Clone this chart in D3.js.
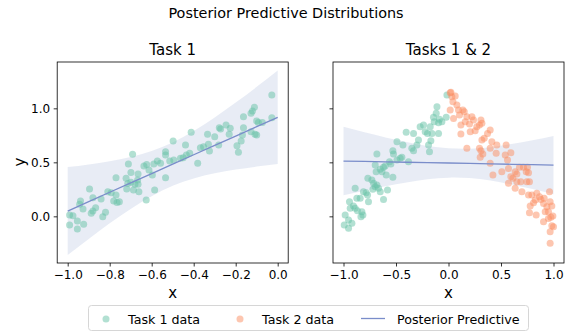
<!DOCTYPE html>
<html>
<head>
<meta charset="utf-8">
<script src="https://cdn.jsdelivr.net/npm/d3@7"></script>
<style>
  html, body { margin: 0; padding: 0; background: #fff; }
  svg { display: block; }
  text { font-family: "DejaVu Sans", sans-serif; fill: #000; }
</style>
</head>
<body>
<svg id="chart" width="571" height="331"></svg>
<script>
// ---- Task 1 observations (left panel) ----
const task1LeftX = [-0.991,-0.975,-0.954,-0.991,-0.924,-0.954,-0.939,-0.943,-0.927,-0.896,-0.880,-0.841,-0.867,-0.880,-0.888,-0.820,-0.833,-0.809,-0.793,-0.770,-0.781,-0.754,-0.765,-0.770,-0.722,-0.699,-0.711,-0.691,-0.714,-0.699,-0.680,-0.719,-0.687,-0.667,-0.665,-0.665,
  -0.661,-0.626,-0.637,-0.624,-0.613,-0.597,-0.590,-0.573,-0.558,-0.586,-0.534,-0.534,-0.534,-0.514,-0.495,-0.498,-0.463,-0.450,-0.439,-0.435,-0.419,-0.412,-0.381,-0.368,-0.353,-0.334,-0.330,-0.325,
  -0.300,-0.278,-0.272,-0.281,-0.246,-0.226,-0.231,-0.194,-0.187,-0.174,-0.168,-0.163,-0.163,-0.127,-0.120,-0.111,-0.127,-0.108,-0.100,-0.100,-0.092,-0.073,-0.028,-0.028];
const task1LeftY = [0.012,0.006,-0.044,-0.081,-0.074,-0.118,0.142,0.111,0.068,0.253,0.172,0.160,0.080,0.049,0.028,0.037,-0.003,0.228,0.219,0.197,0.142,0.135,0.129,0.358,0.352,0.407,0.484,0.574,0.305,0.315,0.296,0.253,0.244,0.336,0.296,0.391,
  0.228,0.151,0.466,0.481,0.429,0.382,0.484,0.512,0.491,0.244,0.598,0.568,0.358,0.512,0.521,0.697,0.537,0.543,0.660,0.568,0.583,0.778,0.491,0.635,0.644,0.759,0.667,0.605,
  0.737,0.820,0.808,0.660,0.845,0.815,0.759,0.654,0.593,0.697,0.753,0.820,0.922,0.954,0.975,1.009,0.783,0.759,0.753,0.882,0.870,0.870,1.123,0.913];

// ---- Task 1 observations (right panel) ----
const task1RightX = [-0.403,-0.333,-0.491,-0.434,-0.349,-0.333,-0.530,-0.524,-0.682,-0.460,-0.444,-0.381,-0.491,-0.562,-0.549,-0.698,-0.650,-0.619,-0.634,-0.603,-0.689,-0.593,-0.530,-0.768,-0.730,-0.714,-0.682,-0.698,-0.667,-0.650,-0.581,-0.720,-0.889,-0.810,-0.784,-0.771,-0.762,-0.619,-0.873,-0.841,-0.943,-0.905,-0.936,-0.889,-0.867,-0.825,-0.815,-0.834,-0.984,-0.952,-0.920,-0.993,-0.952,
  -0.301,-0.286,-0.270,-0.238,-0.222,-0.200,-0.174,-0.158,-0.168,-0.190,-0.181,-0.143,-0.117,-0.110,-0.095,-0.136,-0.063,-0.086,-0.022,-0.095,-0.015];
const task1RightY = [0.778,0.768,0.691,0.660,0.630,0.608,0.608,0.577,0.577,0.537,0.546,0.506,0.521,0.506,0.484,0.475,0.435,0.454,0.413,0.466,0.413,0.382,0.361,0.352,0.336,0.306,0.290,0.274,0.259,0.228,0.244,0.250,0.259,0.228,0.219,0.197,0.135,0.157,0.167,0.167,0.135,0.095,0.074,0.074,0.052,0.043,0.012,-0.004,0.012,-0.034,-0.065,-0.080,-0.111,
  0.660,0.706,0.830,0.845,0.783,0.768,0.830,0.768,0.700,0.660,0.598,0.917,0.954,1.015,0.867,0.876,0.876,0.898,0.917,0.768,1.123];

// ---- Task 2 observations (right panel) ----
const task2X = [0.016,0.032,0.064,0.042,0.080,0.016,0.048,0.095,0.105,0.137,0.150,0.118,0.159,0.175,0.200,0.223,0.238,0.207,0.254,0.270,0.295,0.309,0.318,0.175,0.295,0.309,0.318,0.340,0.372,0.397,0.413,0.397,0.302,0.327,0.397,0.423,0.118,0.023,
  0.460,0.454,0.508,0.549,0.540,0.562,0.594,0.571,0.571,0.594,0.613,0.635,0.651,0.676,0.714,0.752,0.740,0.762,0.651,0.689,0.746,0.771,0.635,0.699,0.762,0.794,0.841,0.867,0.880,0.905,0.911,0.826,0.778,0.810,0.771,0.835,0.905,0.921,0.937,0.952,0.962,0.968,0.984,0.994,0.975,0.952,1.000,0.984,0.968,0.968];
const task2Y = [1.144,1.107,1.114,1.061,1.031,0.984,0.907,0.984,0.938,0.984,0.969,0.845,0.876,0.922,0.855,0.922,0.892,0.783,0.793,0.830,0.845,0.892,0.861,0.630,0.630,0.608,0.706,0.722,0.768,0.799,0.691,0.630,0.546,0.577,0.491,0.382,0.762,1.148,
  0.660,0.583,0.413,0.660,0.568,0.521,0.589,0.444,0.306,0.367,0.352,0.413,0.392,0.454,0.454,0.454,0.413,0.404,0.321,0.321,0.321,0.321,0.259,0.228,0.197,0.197,0.213,0.182,0.157,0.120,0.167,0.151,0.095,0.126,0.033,0.012,-0.050,0.043,0.089,0.043,0.228,0.135,0.095,0.003,-0.009,-0.019,-0.096,-0.087,-0.142,-0.250];

// ---- Posterior predictive mean and interval, left panel ----
const predLeftX     = [-1.0,-0.9,-0.8,-0.7,-0.6,-0.5,-0.4,-0.3,-0.2,-0.1,0.0];
const predLeftMean  = [0.049,0.136,0.223,0.309,0.396,0.483,0.570,0.657,0.743,0.830,0.917];
const predLeftLower = [-0.358,-0.209,-0.065,0.069,0.187,0.283,0.351,0.399,0.433,0.461,0.484];
const predLeftUpper = [0.456,0.481,0.511,0.549,0.605,0.684,0.789,0.915,1.053,1.199,1.350];

// ---- Posterior predictive mean and interval, right panel ----
const predRightX     = [-1.0,-0.8,-0.6,-0.4,-0.2,0.0,0.2,0.4,0.6,0.8,1.0];
const predRightMean  = [0.512,0.508,0.505,0.501,0.497,0.494,0.490,0.486,0.482,0.479,0.475];
const predRightLower = [0.195,0.238,0.279,0.314,0.343,0.358,0.354,0.332,0.295,0.253,0.205];
const predRightUpper = [0.829,0.778,0.731,0.688,0.651,0.630,0.626,0.640,0.669,0.705,0.745];

// ---- Tick labels ----
const leftXTicks  = [-1.0,-0.8,-0.6,-0.4,-0.2,0.0];
const rightXTicks = [-1.0,-0.5,0.0,0.5,1.0];
const yTicks      = [0.0,0.5,1.0];

const COLOR_T1 = "#66c2a5";
const COLOR_T2 = "#fc8d62";
const COLOR_PRED = "#8da0cb";
const COLOR_LINE = "#7a8dca";

const svg = d3.select("#chart");
const fmt = d3.format(".1f");

const plotTop = 62, plotBottom = 263;
const yScale = d3.scaleLinear().domain([-0.432, 1.429]).range([plotBottom, plotTop]);

const zip = (a, b) => a.map((v, i) => [v, b[i]]);

const panels = [
  { title: "Task 1", left: 57.2, right: 288.2, domain: [-1.05, 0.05], ticks: leftXTicks, yLabels: true,
    series: [{ x: task1LeftX, y: task1LeftY, color: COLOR_T1 }],
    band: { x: predLeftX, lo: predLeftLower, hi: predLeftUpper, mean: predLeftMean } },
  { title: "Tasks 1 & 2", left: 333, right: 564, domain: [-1.1, 1.1], ticks: rightXTicks, yLabels: false,
    series: [{ x: task1RightX, y: task1RightY, color: COLOR_T1 }, { x: task2X, y: task2Y, color: COLOR_T2 }],
    band: { x: predRightX, lo: predRightLower, hi: predRightUpper, mean: predRightMean } }
];

panels.forEach((p, idx) => {
  const xScale = d3.scaleLinear().domain(p.domain).range([p.left, p.right]);
  const g = svg.append("g");
  const clipId = "clip" + idx;
  g.append("clipPath").attr("id", clipId).append("rect")
    .attr("x", p.left).attr("y", plotTop).attr("width", p.right - p.left).attr("height", plotBottom - plotTop);
  const plot = g.append("g").attr("clip-path", `url(#${clipId})`);

  // predictive interval
  const bandData = p.band.x.map((x, i) => ({ x, lo: p.band.lo[i], hi: p.band.hi[i] }));
  plot.append("path").datum(bandData)
    .attr("d", d3.area().curve(d3.curveNatural)
      .x(d => xScale(d.x)).y0(d => yScale(d.lo)).y1(d => yScale(d.hi)))
    .attr("fill", COLOR_PRED).attr("fill-opacity", 0.2);

  // observations
  p.series.forEach(s => {
    plot.append("g").selectAll("circle").data(zip(s.x, s.y)).join("circle")
      .attr("cx", d => xScale(d[0])).attr("cy", d => yScale(d[1]))
      .attr("r", 3.5).attr("fill", s.color).attr("fill-opacity", 0.5);
  });

  // predictive mean
  plot.append("path").datum(zip(p.band.x, p.band.mean))
    .attr("d", d3.line().x(d => xScale(d[0])).y(d => yScale(d[1])))
    .attr("fill", "none").attr("stroke", COLOR_LINE).attr("stroke-width", 1.3);

  // axes
  const xAxis = g.append("g").attr("transform", `translate(0,${plotBottom})`)
    .call(d3.axisBottom(xScale).tickValues(p.ticks).tickFormat(fmt).tickSize(3.5).tickPadding(3.5).tickSizeOuter(0));
  const yAxis = g.append("g").attr("transform", `translate(${p.left},0)`)
    .call(d3.axisLeft(yScale).tickValues(yTicks).tickFormat(p.yLabels ? fmt : () => "").tickSize(3.5).tickPadding(3.5).tickSizeOuter(0));
  [xAxis, yAxis].forEach(a => {
    a.select(".domain").remove();
    a.selectAll("line").attr("stroke", "#000").attr("stroke-width", 0.8);
    a.selectAll("text").attr("font-size", 12).attr("font-family", "DejaVu Sans").attr("fill", "#000");
  });

  // frame
  g.append("rect").attr("x", p.left).attr("y", plotTop).attr("width", p.right - p.left).attr("height", plotBottom - plotTop)
    .attr("fill", "none").attr("stroke", "#000").attr("stroke-width", 0.8);

  // titles and labels
  g.append("text").attr("x", (p.left + p.right) / 2).attr("y", 55).attr("text-anchor", "middle")
    .attr("font-size", 15).text(p.title);
  g.append("text").attr("x", (p.left + p.right) / 2).attr("y", 298).attr("text-anchor", "middle")
    .attr("font-size", 15).text("x");
  if (p.yLabels) {
    g.append("text").attr("transform", `translate(25,162) rotate(-90)`).attr("text-anchor", "middle")
      .attr("font-size", 15).text("y");
  }
});

// figure title
svg.append("text").attr("x", 286).attr("y", 18).attr("text-anchor", "middle")
  .attr("font-size", 14.4).text("Posterior Predictive Distributions");

// legend
const lg = svg.append("g");
lg.append("rect").attr("x", 88.5).attr("y", 305.5).attr("width", 440).attr("height", 25).attr("rx", 3)
  .attr("fill", "#fff").attr("fill-opacity", 0.8).attr("stroke", "#d6d6d6").attr("stroke-width", 1);
const legendItems = [
  { label: "Task 1 data", kind: "dot", color: COLOR_T1, x: 106 },
  { label: "Task 2 data", kind: "dot", color: COLOR_T2, x: 240 },
  { label: "Posterior Predictive", kind: "line", color: COLOR_LINE, x: 373 }
];
legendItems.forEach(it => {
  if (it.kind === "dot") {
    lg.append("circle").attr("cx", it.x).attr("cy", 319).attr("r", 3.5)
      .attr("fill", it.color).attr("fill-opacity", 0.5);
  } else {
    lg.append("line").attr("x1", it.x - 12).attr("x2", it.x + 12).attr("y1", 318.5).attr("y2", 318.5)
      .attr("stroke", it.color).attr("stroke-width", 1.3);
  }
  lg.append("text").attr("x", it.x + (it.kind === "dot" ? 22 : 24)).attr("y", 323.5)
    .attr("font-size", 12.7).text(it.label);
});
</script>
</body>
</html>
